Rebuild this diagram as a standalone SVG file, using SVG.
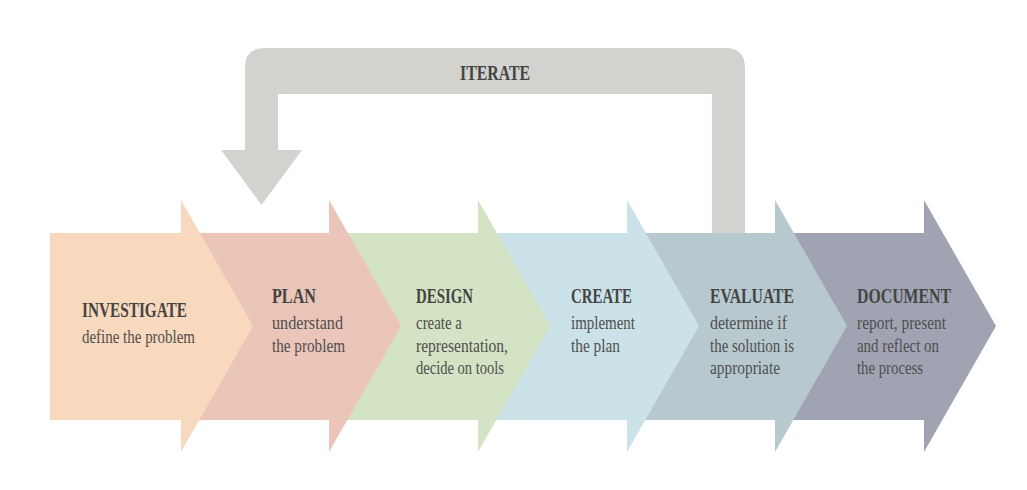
<svg xmlns="http://www.w3.org/2000/svg" width="1027" height="490" viewBox="0 0 1027 490">
<style>
.t{font-family:"Liberation Serif","DejaVu Serif",serif;font-weight:bold;font-size:20px;fill:#444444}
.s{font-family:"Liberation Serif","DejaVu Serif",serif;font-size:18px;fill:#4f4f4f}
</style>
<rect width="1027" height="490" fill="#ffffff"/>
<g id="connectors">
<path id="iterate-arrow" d="M278,150 V94 H712 V233 H745 V68 Q745,48 725,48 H265 Q245,48 245,68 V150 H221 L261.5,205 L302,150 Z" fill="#d3d2cf"/>
<text class="t" x="460" y="80" textLength="70" lengthAdjust="spacingAndGlyphs">ITERATE</text>
</g>
<g id="document">
<path d="M775,233 H924 V200 L996,326 L924,452 V420 H775 Z" fill="#a0a4b2"/>
<text class="t" x="857" y="303" textLength="94" lengthAdjust="spacingAndGlyphs">DOCUMENT</text>
<text class="s" x="857" y="329" textLength="89" lengthAdjust="spacingAndGlyphs">report, present</text>
<text class="s" x="857" y="352" textLength="82" lengthAdjust="spacingAndGlyphs">and reflect on</text>
<text class="s" x="857" y="374" textLength="66" lengthAdjust="spacingAndGlyphs">the process</text>
</g>
<g id="evaluate">
<path d="M627,233 H775 V200 L847,326 L775,452 V420 H627 Z" fill="#b8c8cf"/>
<text class="t" x="710" y="303" textLength="84" lengthAdjust="spacingAndGlyphs">EVALUATE</text>
<text class="s" x="710" y="329" textLength="77" lengthAdjust="spacingAndGlyphs">determine if</text>
<text class="s" x="710" y="352" textLength="84" lengthAdjust="spacingAndGlyphs">the solution is</text>
<text class="s" x="710" y="374" textLength="70" lengthAdjust="spacingAndGlyphs">appropriate</text>
</g>
<g id="create">
<path d="M478,233 H627 V200 L699,326 L627,452 V420 H478 Z" fill="#cbe2e9"/>
<text class="t" x="571" y="303" textLength="61" lengthAdjust="spacingAndGlyphs">CREATE</text>
<text class="s" x="571" y="329" textLength="64" lengthAdjust="spacingAndGlyphs">implement</text>
<text class="s" x="571" y="352" textLength="49" lengthAdjust="spacingAndGlyphs">the plan</text>
</g>
<g id="design">
<path d="M329,233 H478 V200 L550,326 L478,452 V420 H329 Z" fill="#d3e3c3"/>
<text class="t" x="416" y="303" textLength="57" lengthAdjust="spacingAndGlyphs">DESIGN</text>
<text class="s" x="416" y="329" textLength="46" lengthAdjust="spacingAndGlyphs">create a</text>
<text class="s" x="416" y="352" textLength="92" lengthAdjust="spacingAndGlyphs">representation,</text>
<text class="s" x="416" y="374" textLength="88" lengthAdjust="spacingAndGlyphs">decide on tools</text>
</g>
<g id="plan">
<path d="M181,233 H329 V200 L401,326 L329,452 V420 H181 Z" fill="#ebc5b8"/>
<text class="t" x="272" y="303" textLength="44" lengthAdjust="spacingAndGlyphs">PLAN</text>
<text class="s" x="272" y="329" textLength="71" lengthAdjust="spacingAndGlyphs">understand</text>
<text class="s" x="272" y="352" textLength="73" lengthAdjust="spacingAndGlyphs">the problem</text>
</g>
<g id="investigate">
<path d="M50,233 H181 V200 L253,326 L181,452 V420 H50 Z" fill="#f9d9be"/>
<text class="t" x="82" y="317" textLength="105" lengthAdjust="spacingAndGlyphs">INVESTIGATE</text>
<text class="s" x="82" y="343" textLength="113" lengthAdjust="spacingAndGlyphs">define the problem</text>
</g>
</svg>
